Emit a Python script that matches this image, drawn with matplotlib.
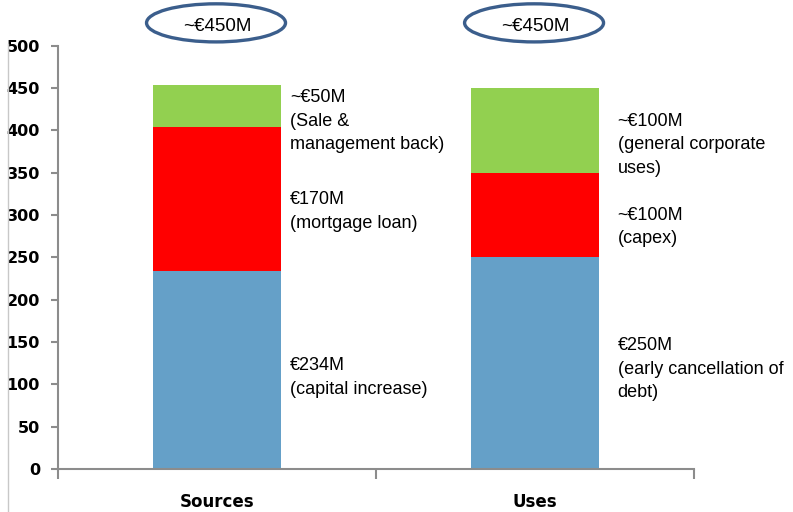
import matplotlib
matplotlib.use("Agg")
import matplotlib.pyplot as plt
from matplotlib.patches import Ellipse
from matplotlib.lines import Line2D
import numpy as np

# ---- data ----
categories = ["Sources", "Uses"]
blue_vals = [234, 250]
red_vals = [170, 100]
green_vals = [50, 100]
total_labels = ["~€450M", "~€450M"]
blue_labels = ["€234M\n(capital increase)", "€250M\n(early cancellation of\ndebt)"]
red_labels = ["€170M\n(mortgage loan)", "~€100M\n(capex)"]
green_labels = ["~€50M\n(Sale &\nmanagement back)", "~€100M\n(general corporate\nuses)"]
yticks = [0, 50, 100, 150, 200, 250, 300, 350, 400, 450, 500]

# ---- style ----
c_blue = "#65A0C8"
c_red = "#FF0000"
c_green = "#92D050"
axis_gray = "#8C8C8C"
bar_w = 0.405
label_dx = [0.23, 0.26]          # label x offset from category centre
label_dy = {"blue": [-9, -7], "red": [-15, -14], "green": [-18, -17]}

fig = plt.figure(figsize=(7.93, 5.12), dpi=100)
ax = fig.add_axes([0.0731, 0.0840, 0.8021, 0.8267])

x = np.arange(len(categories))
b = np.array(blue_vals)
r = np.array(red_vals)
g = np.array(green_vals)
ax.bar(x, b, bar_w, color=c_blue, linewidth=0)
ax.bar(x, r, bar_w, bottom=b, color=c_red, linewidth=0)
ax.bar(x, g, bar_w, bottom=b + r, color=c_green, linewidth=0)

ax.set_xlim(-0.5, 1.5)
ax.set_ylim(0, 500)
ax.set_yticks(yticks)
ax.set_yticklabels([str(v) for v in yticks], fontsize=11.5, fontweight="bold",
                   family="DejaVu Sans")
ax.set_xticks(x)
ax.set_xticklabels(categories, fontsize=12, fontweight="bold", family="DejaVu Sans")
ax.set_xticks([-0.5, 0.5, 1.5], minor=True)
ax.tick_params(axis="x", which="major", length=0, pad=17)
ax.tick_params(axis="x", which="minor", length=7, width=1.5, color=axis_gray, direction="out")
ax.tick_params(axis="y", which="major", length=5, width=1.5, color=axis_gray,
               direction="out", pad=8)

for s in ["top", "right"]:
    ax.spines[s].set_visible(False)
for s in ["left", "bottom"]:
    ax.spines[s].set_color(axis_gray)
    ax.spines[s].set_linewidth(1.5)

txt_kw = dict(fontsize=13, family="Liberation Sans", va="center", ha="left",
              linespacing=1.5, color="black")
for i in range(len(categories)):
    ax.text(x[i] + label_dx[i], b[i] / 2 + label_dy["blue"][i], blue_labels[i], **txt_kw)
    ax.text(x[i] + label_dx[i], b[i] + r[i] / 2 + label_dy["red"][i], red_labels[i], **txt_kw)
    ax.text(x[i] + label_dx[i], b[i] + r[i] + g[i] / 2 + label_dy["green"][i], green_labels[i], **txt_kw)
    # total ellipse
    e = Ellipse((x[i] - 0.003, 527), width=0.437, height=45, facecolor="white",
                edgecolor="#3B5E8C", linewidth=2.4, clip_on=False)
    ax.add_patch(e)
    ax.text(x[i], 523, total_labels[i], fontsize=13.5, family="Liberation Sans",
            ha="center", va="center", clip_on=False)

# faint frame line at left edge of picture
fig.add_artist(Line2D([0.0095, 0.0095], [0.0, 0.915], transform=fig.transFigure,
                      color="#C8C8C8", linewidth=1.0))

fig.savefig("out.png", dpi=100)
